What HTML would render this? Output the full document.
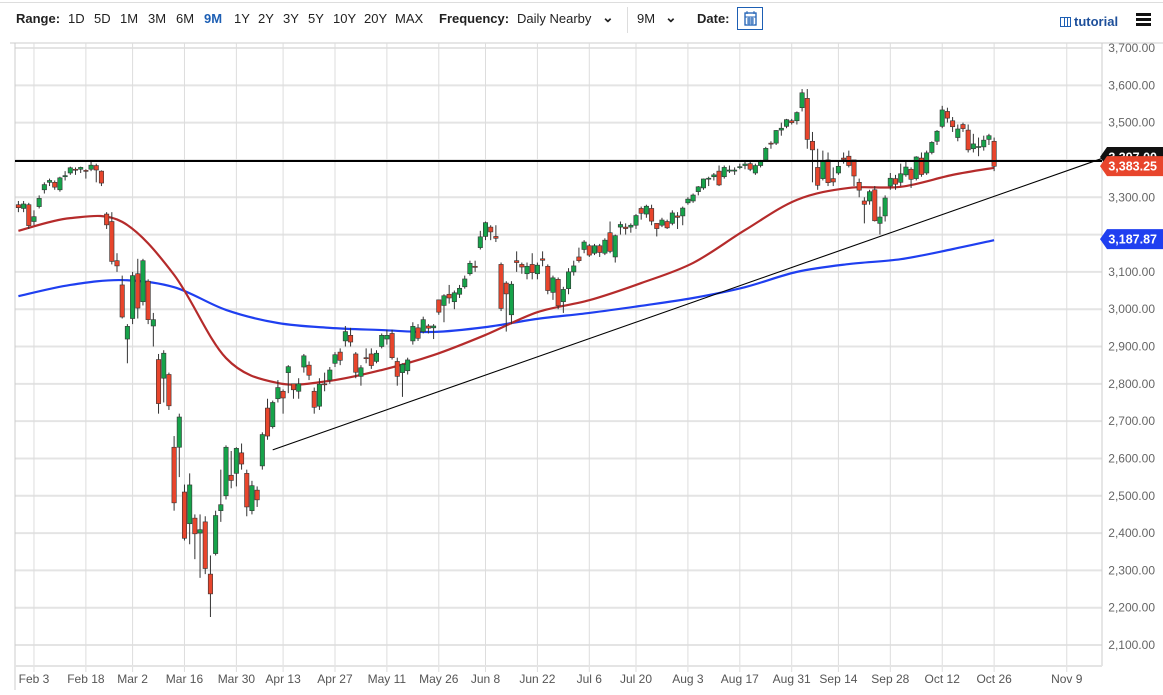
<!DOCTYPE html>
<html><head><meta charset="utf-8">
<style>
html,body{margin:0;padding:0;background:#fff;width:1163px;height:695px;overflow:hidden;font-family:"Liberation Sans",sans-serif;}
.tb{position:absolute;font-size:13px;color:#222;top:11px;white-space:nowrap}
.b{font-weight:bold}
#chart{position:absolute;left:0;top:0}
</style></head><body>
<div style="position:absolute;left:0;top:2px;width:1163px;height:1px;background:#ddd"></div>
<span class="tb b" style="left:16px">Range:</span>
<span class="tb" style="left:68px">1D</span>
<span class="tb" style="left:94px">5D</span>
<span class="tb" style="left:120px">1M</span>
<span class="tb" style="left:148px">3M</span>
<span class="tb" style="left:176px">6M</span>
<span class="tb b" style="left:204px;color:#1d5fb4">9M</span>
<span class="tb" style="left:234px">1Y</span>
<span class="tb" style="left:258px">2Y</span>
<span class="tb" style="left:283px">3Y</span>
<span class="tb" style="left:308px">5Y</span>
<span class="tb" style="left:333px">10Y</span>
<span class="tb" style="left:364px">20Y</span>
<span class="tb" style="left:395px">MAX</span>
<span class="tb b" style="left:439px">Frequency:</span>
<span class="tb" style="left:517px">Daily Nearby</span>
<span class="tb b" style="left:602px;top:9px;font-size:14px">&#8964;</span>
<div style="position:absolute;left:627px;top:7px;width:1px;height:26px;background:#ddd"></div>
<span class="tb" style="left:637px">9M</span>
<span class="tb b" style="left:665px;top:9px;font-size:14px">&#8964;</span>
<span class="tb b" style="left:697px">Date:</span>
<div style="position:absolute;left:737px;top:7px;width:26px;height:23px;border:1px solid #1d5fb4;box-sizing:border-box">
<svg width="24" height="21"><rect x="7" y="5" width="11" height="12" fill="none" stroke="#1d5fb4" stroke-width="1.3"/><path d="M7 9h11M9 11h7M9 13h7M9 15h7M11 9v8M14 9v8M9 3v3M16 3v3" stroke="#1d5fb4" stroke-width="0.9"/></svg></div>
<div style="position:absolute;left:1060px;top:14px;font-size:13px;font-weight:bold;color:#1d4f9a">
<span style="display:inline-block;width:11px;height:10px;border:1.5px solid #1d5fb4;box-sizing:border-box;vertical-align:-1px;margin-right:3px;background:linear-gradient(90deg,transparent 3px,#1d5fb4 3px,#1d5fb4 4px,transparent 4px,transparent 6px,#1d5fb4 6px,#1d5fb4 7px,transparent 7px)"></span>tutorial</div>
<div style="position:absolute;left:1136px;top:13px;width:15px;height:13px;background:linear-gradient(#111 0,#111 3px,transparent 3px,transparent 5px,#111 5px,#111 8px,transparent 8px,transparent 10px,#111 10px,#111 13px)"></div>
<svg id="chart" width="1163" height="695" style="top:0"></svg>
<script>
const closes=[3272,3282,3224,
3248,3297,3334,3345,3327,3352,3358,3379,3374,3380,3370,3386,3373,3338,3226,3128,3116,2979,2954,
3090,3003,3130,2972,2972,2747,2882,2741,2481,2711,2386,2529,2398,2409,2305,2237,2447,2476,2630,2541,2627,2585,
2470,2527,2489,2664,2660,2750,2790,2762,2846,2784,2800,2875,2823,2737,2799,2798,2837,2878,2863,2940,2912,
2831,2843,2868,2849,2882,2930,2930,2870,2820,2852,2864,2954,2922,2972,2949,2955,2992,3036,3030,3044,
3056,3081,3123,3112,3194,3232,3207,3190,3002,3041,3067,3125,3113,3115,3098,3118,3131,3050,3084,3009,3053,3100,
3116,3130,3180,3145,3170,3152,3185,3155,3197,3227,3216,3225,3251,3257,3276,3236,3216,3239,3218,3258,3246,3271,
3295,3306,3328,3349,3351,3360,3333,3380,3373,3373,3382,3389,3375,3385,3397,3431,3443,3479,3485,3508,3500,
3527,3580,3455,3427,3332,3398,3339,3341,3383,3401,3385,3357,3319,3281,3315,3237,3247,3298,3351,3335,3363,
3381,3348,3408,3361,3419,3447,3477,3534,3512,3489,3483,3484,3427,3443,3436,3453,3465,3383];
const opens=[3280,3270,3280,
3235,3275,3320,3340,3340,3320,3355,3365,3375,3375,3372,3375,3385,3370,3255,3235,3130,3065,2920,
2975,3095,3020,3075,2955,2865,2815,2825,2630,2630,2510,2425,2440,2400,2430,2290,2345,2460,2500,2555,2560,2615,
2560,2460,2515,2580,2735,2685,2760,2780,2830,2800,2780,2845,2850,2780,2740,2800,2810,2855,2885,2915,2930,
2880,2820,2870,2880,2860,2900,2920,2935,2860,2830,2835,2915,2950,2940,2955,2950,3025,3010,3040,3020,
3040,3060,3095,3115,3165,3195,3220,3195,3120,3070,2985,3130,3120,3095,3120,3095,3135,3115,3045,3080,3020,3055,
3100,3140,3160,3170,3150,3170,3150,3205,3140,3220,3220,3220,3225,3270,3255,3270,3230,3225,3235,3230,3250,3250,
3285,3290,3315,3325,3350,3355,3370,3355,3370,3370,3380,3385,3390,3365,3385,3400,3445,3445,3480,3490,3505,
3505,3540,3565,3450,3380,3350,3400,3350,3365,3405,3410,3400,3340,3290,3290,3320,3230,3250,3330,3350,3340,
3360,3375,3350,3405,3365,3420,3450,3490,3530,3505,3460,3495,3480,3430,3435,3435,3455,3450];
const highs=[3290,3290,3285,
3265,3305,3340,3350,3345,3355,3370,3382,3380,3382,3375,3395,3390,3372,3260,3260,3150,3090,2960,
3100,3135,3135,3080,2990,2880,2890,2830,2660,2720,2530,2560,2450,2450,2445,2340,2460,2570,2635,2620,2630,2640,
2570,2540,2525,2670,2760,2755,2810,2785,2850,2800,2815,2880,2860,2790,2815,2830,2845,2885,2895,2955,2950,
2885,2850,2895,2895,2890,2935,2945,2945,2870,2855,2870,2965,2960,2980,2960,2960,3025,3040,3065,3050,
3065,3090,3130,3130,3210,3235,3225,3225,3125,3075,3075,3155,3125,3125,3150,3125,3155,3120,3090,3085,3060,3110,
3130,3165,3185,3175,3175,3175,3190,3235,3200,3235,3230,3230,3255,3275,3280,3280,3230,3245,3240,3265,3260,3275,
3300,3310,3330,3350,3355,3365,3385,3385,3385,3380,3390,3395,3395,3390,3400,3435,3450,3480,3500,3510,3510,
3530,3590,3590,3475,3430,3425,3420,3380,3400,3420,3425,3400,3350,3300,3320,3330,3275,3305,3365,3360,3390,
3395,3380,3410,3420,3425,3450,3480,3545,3540,3515,3495,3500,3495,3470,3460,3465,3470,3460];
const lows=[3260,3260,3215,
3225,3270,3310,3330,3320,3315,3345,3360,3360,3365,3350,3370,3340,3330,3215,3120,3100,2975,2855,
2960,2975,3010,2960,2900,2720,2750,2730,2460,2550,2380,2370,2330,2280,2290,2175,2340,2430,2490,2520,2525,2570,
2445,2450,2470,2570,2650,2680,2750,2720,2775,2760,2760,2830,2810,2720,2730,2780,2800,2845,2850,2900,2900,
2815,2795,2855,2840,2855,2895,2905,2865,2795,2765,2825,2905,2915,2935,2935,2920,2985,2965,3015,3000,
3030,3055,3090,3100,3160,3185,3185,3180,2995,2940,2960,3100,3095,3080,3080,3080,3115,3040,3025,3000,2990,3040,
3090,3125,3150,3140,3145,3140,3145,3150,3125,3200,3200,3205,3215,3240,3245,3225,3195,3220,3215,3225,3215,3225,
3280,3285,3305,3320,3330,3345,3330,3350,3365,3360,3375,3375,3370,3360,3380,3400,3430,3440,3465,3485,3495,
3495,3530,3430,3340,3320,3345,3330,3330,3360,3390,3380,3330,3300,3230,3280,3235,3200,3235,3320,3320,3330,
3355,3325,3345,3355,3360,3415,3440,3485,3500,3475,3450,3475,3420,3420,3410,3425,3440,3370];
const maIdx=[0,10,20,30,40,50,60,70,80,90,100,110,120,130,140,150,160,170,180,188];
const ma50=[3210,3244,3234,3092,2869,2802,2808,2837,2877,2931,2992,3024,3070,3124,3212,3293,3325,3328,3360,3379];
const ma200=[3035,3065,3078,3059,2998,2963,2950,2944,2939,2952,2974,2990,3009,3030,3059,3100,3121,3134,3161,3185];
const yTicks=[3700,3600,3500,3400,3300,3200,3100,3000,2900,2800,2700,2600,2500,2400,2300,2200,2100];
const xTickIdx=[3,13,22,32,42,51,61,71,81,90,100,110,119,129,139,149,158,168,178,188,202];
const xTickLabels=["Feb 3","Feb 18","Mar 2","Mar 16","Mar 30","Apr 13","Apr 27","May 11","May 26","Jun 8","Jun 22","Jul 6","Jul 20","Aug 3","Aug 17","Aug 31","Sep 14","Sep 28","Oct 12","Oct 26","Nov 9"];
const trendIdx=[49,209];
const trendVal=[2623,3405];
const hLevel=3397;
const lastPrice=3383.25;
const ma200Last=3187.87;

const svg=document.getElementById('chart');
const NS='http://www.w3.org/2000/svg';
const L=15,R=1102,T=43,B=666;
function X(i){return 18.4+5.19*i;}
function Y(v){return 48+(3700-v)*0.373125;}
function mk(tag,attrs,parent){const e=document.createElementNS(NS,tag);for(const k in attrs)e.setAttribute(k,attrs[k]);(parent||svg).appendChild(e);return e;}
function fmt(v){return v.toLocaleString('en-US',{minimumFractionDigits:2,maximumFractionDigits:2});}

let e=mk('line',{x1:10,y1:T,x2:1163,y2:T,stroke:'#ddd','stroke-width':1.5});


const grid=mk('g',{});


yTicks.forEach(v=>{
  mk('line',{x1:L,y1:Y(v),x2:R,y2:Y(v),stroke:'#e4e4e4','stroke-width':2},grid);
  const t=mk('text',{x:1155,y:Y(v)+4,'text-anchor':'end','font-size':12,fill:'#666'});
  t.textContent=fmt(v);
  
  
});
xTickIdx.forEach((ix,k)=>{
  mk('line',{x1:X(ix),y1:T,x2:X(ix),y2:B+6,stroke:'#ddd','stroke-width':1},grid);
  const t=mk('text',{x:X(ix),y:683,'text-anchor':'middle','font-size':12,fill:'#555'});
  t.textContent=xTickLabels[k];
  
  
});
mk('line',{x1:L,y1:T,x2:L,y2:690,stroke:'#ccc','stroke-width':1},grid);
mk('line',{x1:R,y1:T,x2:R,y2:B,stroke:'#ccc','stroke-width':1},grid);
mk('line',{x1:L,y1:B,x2:R,y2:B,stroke:'#e4e4e4','stroke-width':2},grid);

function smooth(idx,vals){
  const p=idx.map((ix,k)=>[X(ix),Y(vals[k])]);
  let d='M'+p[0][0]+' '+p[0][1];
  for(let k=0;k<p.length-1;k++){
    const p0=p[k-1]||p[k],p1=p[k],p2=p[k+1],p3=p[k+2]||p2;
    const c1=[p1[0]+(p2[0]-p0[0])/6,p1[1]+(p2[1]-p0[1])/6];
    const c2=[p2[0]-(p3[0]-p1[0])/6,p2[1]-(p3[1]-p1[1])/6];
    d+=` C${c1[0]} ${c1[1]} ${c2[0]} ${c2[1]} ${p2[0]} ${p2[1]}`;
  }
  return d;
}
e=mk('path',{d:smooth(maIdx,ma200),fill:'none',stroke:'#1f3ff0','stroke-width':2.2});


e=mk('path',{d:smooth(maIdx,ma50),fill:'none',stroke:'#b52b2b','stroke-width':2.2});



const cg=mk('g',{});


closes.forEach((c,i)=>{
  const o=opens[i],x=X(i);
  const g=mk('g',{},cg);
  
  
  mk('line',{x1:x,y1:Y(highs[i]),x2:x,y2:Y(lows[i]),stroke:'#333','stroke-width':1},g);
  const top=Y(Math.max(o,c)),h=Math.max(1,Y(Math.min(o,c))-top);
  mk('rect',{x:x-2.2,y:top,width:4.4,height:h,fill:c>=o?'#16a34a':'#e8452c',stroke:'#333','stroke-width':0.6},g);
});

e=mk('line',{x1:L,y1:Y(hLevel),x2:R,y2:Y(hLevel),stroke:'#000','stroke-width':2});


const sl=(trendVal[1]-trendVal[0])/(trendIdx[1]-trendIdx[0]);
e=mk('line',{x1:X(trendIdx[0]),y1:Y(trendVal[0]),x2:X(trendIdx[1]),y2:Y(trendVal[1]),stroke:'#000','stroke-width':1.1});



function tag(v,fill,name,yo){
  const y=Y(v)+(yo||0);
  const g=mk('g',{});
  
  
  mk('path',{d:`M1100 ${y} L1107 ${y-10} L1163 ${y-10} L1163 ${y+10} L1107 ${y+10} Z`,fill:fill},g);
  const t=mk('text',{x:1157,y:y+4.5,'text-anchor':'end','font-size':12.5,'font-weight':'bold',fill:'#fff'},g);
  t.textContent=fmt(v);
}
tag(hLevel,'#111','resistance-price-tag',-4);
tag(lastPrice,'#e8452c','last-price-tag',0);
tag(ma200Last,'#1f3ff0','ma-200-price-tag',0);
</script>
</body></html>
